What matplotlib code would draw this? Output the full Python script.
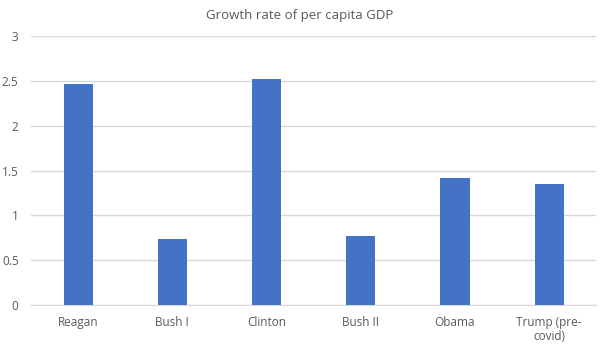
import matplotlib.pyplot as plt

presidents = ['Reagan', 'Bush I', 'Clinton', 'Bush II', 'Obama', 'Trump (pre-\ncovid)']
growth = [2.465, 0.735, 2.52, 0.773, 1.415, 1.35]
yticks = [0, 0.5, 1, 1.5, 2, 2.5, 3]
ytick_labels = ['0', '0.5', '1', '1.5', '2', '2.5', '3']

plt.rcParams['font.family'] = ['Open Sans', 'DejaVu Sans']

fig = plt.figure(figsize=(6, 3.51), dpi=100)
ax = fig.add_axes([0.0517, 0.131, 0.942, 0.766])

x = range(len(presidents))
ax.bar(x, growth, width=0.31, color='#4472C4', zorder=3)

ax.set_xlim(-0.5, len(presidents) - 0.5)
ax.set_ylim(0, 3)
ax.set_yticks(yticks)
ax.set_yticklabels(ytick_labels)
ax.set_xticks(list(x))
ax.set_xticklabels(presidents, va='top', linespacing=1.1)

ax.grid(axis='y', color='#D9D9D9', linewidth=1, zorder=0)
for s in ['top', 'right', 'left']:
    ax.spines[s].set_visible(False)
ax.spines['bottom'].set_color('#D9D9D9')
ax.tick_params(axis='both', length=0, labelsize=8.5, labelcolor='#595959')
ax.tick_params(axis='y', pad=9)
ax.tick_params(axis='x', pad=8)

fig.text(0.5, 0.957, 'Growth rate of per capita GDP', ha='center', va='center',
         fontsize=9.5, color='#595959')

fig.savefig('out.png', dpi=100)
